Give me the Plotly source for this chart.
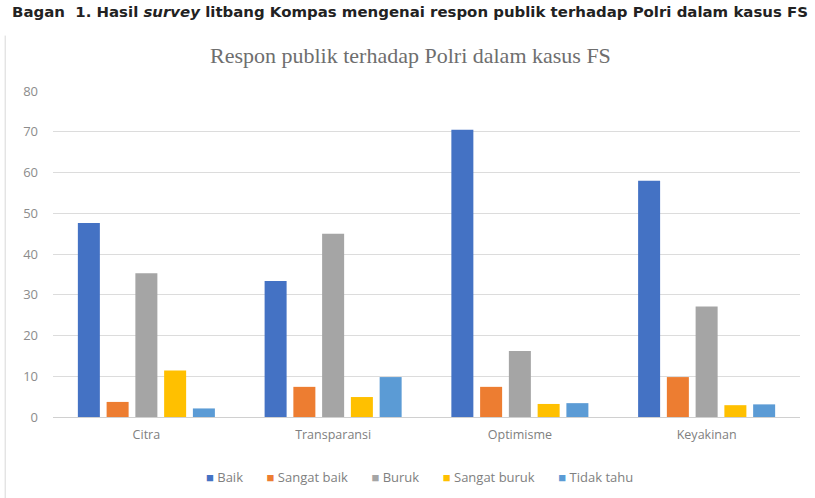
import plotly.graph_objects as go

categories = ["Citra", "Transparansi", "Optimisme", "Keyakinan"]
series_names = ["Baik", "Sangat baik", "Buruk", "Sangat buruk", "Tidak tahu"]
baik = [47.6, 33.4, 70.5, 58.0]
sangat_baik = [3.7, 7.4, 7.4, 9.8]
buruk = [35.3, 45.0, 16.2, 27.1]
sangat_buruk = [11.4, 4.9, 3.2, 2.9]
tidak_tahu = [2.1, 9.8, 3.4, 3.1]
y_ticks = [0, 10, 20, 30, 40, 50, 60, 70, 80]

colors = ["#4472C4", "#ED7D31", "#A5A5A5", "#FFC000", "#5B9BD5"]
values = [baik, sangat_baik, buruk, sangat_buruk, tidak_tahu]

fig = go.Figure()
for name, vals, col in zip(series_names, values, colors):
    fig.add_trace(go.Bar(x=categories, y=vals, name=name, marker_color=col,
                         marker_line_width=0, showlegend=False))

legend_text = "&#160;&#160;&#160;&#160;&#160;&#160;&#160;".join(
    f"<span style='color:{c}'>■</span>&#160;{n}" for n, c in zip(series_names, colors))

fig.update_layout(
    width=815, height=498,
    margin=dict(l=53, r=15, t=91, b=81, autoexpand=False),
    paper_bgcolor="white", plot_bgcolor="white",
    barmode="group", bargap=0.23, bargroupgap=0.235,
    font=dict(family="Open Sans, sans-serif", color="#808080", size=12),
    showlegend=False,
    xaxis=dict(showgrid=False, showline=False, ticks="", ticklabelstandoff=8,
               tickfont=dict(size=12.5, color="#808080")),
    yaxis=dict(range=[0, 80], tickvals=y_ticks, showgrid=True, gridcolor="#dcdcdc",
               gridwidth=1, zeroline=True, zerolinecolor="#d0d0d0", zerolinewidth=1,
               ticks="", ticklabelstandoff=14, tickfont=dict(size=13, color="#8c8c8c")),
    annotations=[
        dict(text="<b>Bagan  1. Hasil <i>survey</i> litbang Kompas mengenai respon publik terhadap Polri dalam kasus FS</b>",
             xref="paper", yref="paper", x=-0.058, y=1.242, xanchor="left", yanchor="middle",
             showarrow=False, font=dict(family="DejaVu Sans, sans-serif", size=14.95, color="#222222")),
        dict(text="Respon publik terhadap Polri dalam kasus FS",
             xref="paper", yref="paper", x=0.478, y=1.11, xanchor="center", yanchor="middle",
             showarrow=False, font=dict(family="Liberation Serif, serif", size=22, color="#6e6e6e")),
        dict(text=legend_text,
             xref="paper", yref="paper", x=0.49, y=-0.184, xanchor="center", yanchor="middle",
             showarrow=False, font=dict(family="Open Sans, sans-serif", size=13, color="#808080")),
    ],
    shapes=[dict(type="line", xref="paper", yref="paper", x0=-0.064, x1=-0.064, y0=1.17, y1=-0.25,
                 line=dict(color="#d8d8d8", width=1))],
)

fig.write_html("out.html")
